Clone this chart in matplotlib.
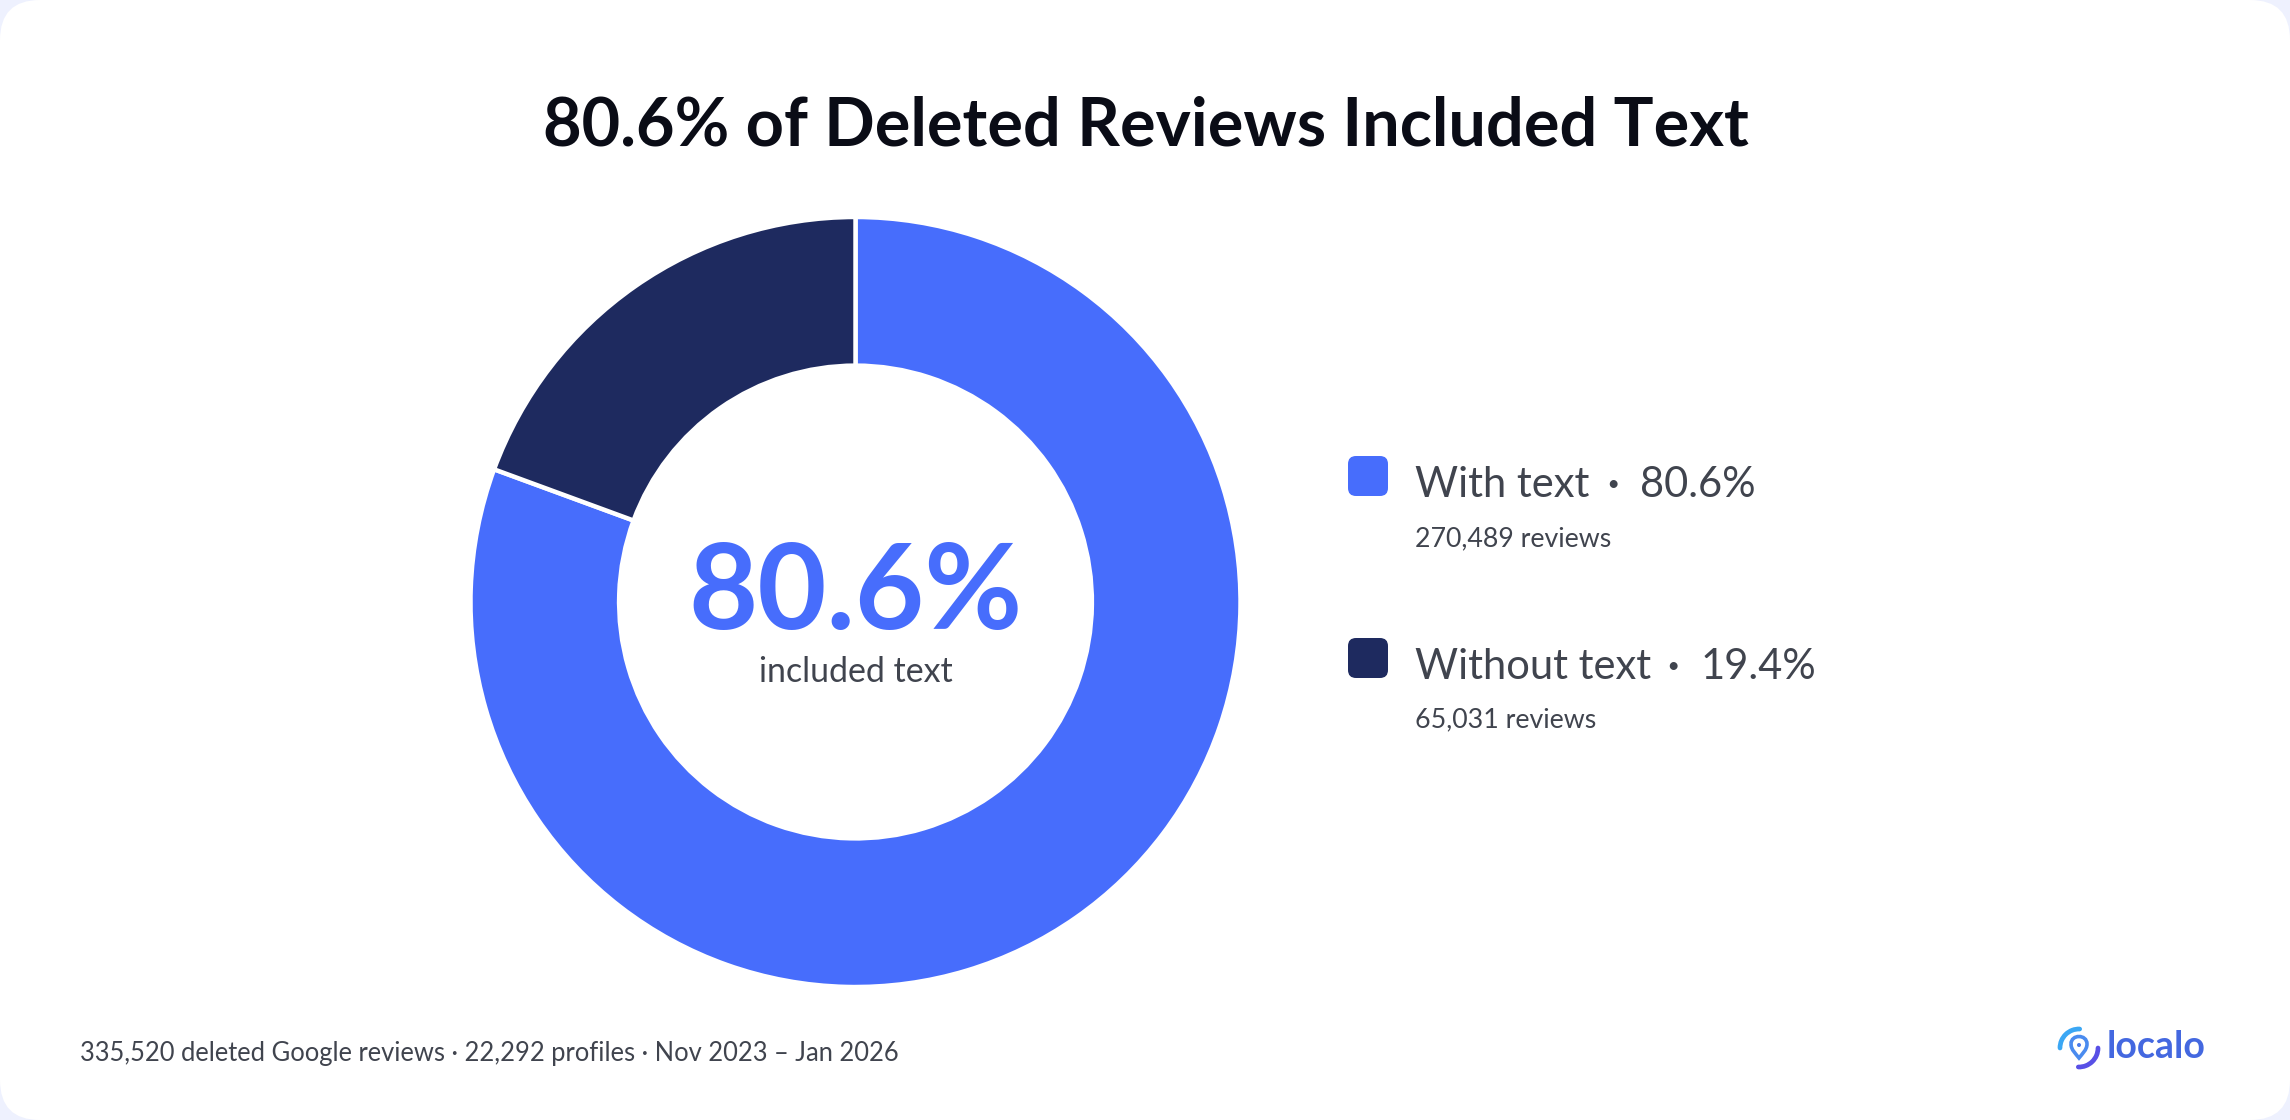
import matplotlib
matplotlib.use("Agg")
import matplotlib.pyplot as plt
from matplotlib.patches import FancyBboxPatch, Arc, Circle, PathPatch
from matplotlib.path import Path

# data
categories = ["With text", "Without text"]
shares = [80.6, 19.4]
share_labels = ["80.6%", "19.4%"]
review_labels = ["270,489 reviews", "65,031 reviews"]
colors = ["#476DFC", "#1E2A5F"]
title = "80.6% of Deleted Reviews Included Text"
center_value = "80.6%"
center_label = "included text"
footer = "335,520 deleted Google reviews · 22,292 profiles · Nov 2023 – Jan 2026"

W, H = 2290, 1120
TEXT = "#40444E"
plt.rcParams["font.family"] = ["Lato", "DejaVu Sans"]

fig = plt.figure(figsize=(W / 100, H / 100), dpi=100, facecolor="#EEF1FE")

# overlay in pixel coords, y going down like the picture
bg = fig.add_axes([0, 0, 1, 1])
bg.set_xlim(0, W)
bg.set_ylim(H, 0)
bg.axis("off")
bg.add_patch(FancyBboxPatch((40, 40), W - 80, H - 80, boxstyle="round,pad=40,rounding_size=40",
                            fc="white", ec="none"))

# donut
cx, cy, r_out = 855.5, 602, 385
ax = fig.add_axes([(cx - r_out) / W, 1 - (cy + r_out) / H, 2 * r_out / W, 2 * r_out / H])
ax.pie(shares, colors=colors, startangle=90, counterclock=False, radius=1,
       wedgeprops=dict(width=0.386, edgecolor="white", linewidth=3.2))
ax.set_xlim(-1, 1)
ax.set_ylim(-1, 1)

bg.text(1146, 146, title, fontsize=48, fontweight="bold", color="#0A0C16", ha="center", va="baseline")
bg.text(cx, 629, center_value, fontsize=86, fontweight="bold", color=colors[0], ha="center", va="baseline")
bg.text(cx, 682, center_label, fontsize=24.4, color=TEXT, ha="center", va="baseline")

# legend
square_y = [456, 638]
label_y = [497, 679]
sub_y = [546, 727]
dot_x = [1613, 1673]
pct_x = [1640, 1701]
for i in range(2):
    bg.add_patch(FancyBboxPatch((1356, square_y[i] + 8), 24, 24, boxstyle="round,pad=8,rounding_size=8",
                                fc=colors[i], ec="none"))
    bg.text(1415, label_y[i], categories[i], fontsize=30, color=TEXT, va="baseline")
    bg.text(dot_x[i], label_y[i], "·", fontsize=30, fontweight="bold", color=TEXT, ha="center", va="baseline")
    bg.text(pct_x[i], label_y[i], share_labels[i], fontsize=30, color=TEXT, va="baseline")
    bg.text(1415, sub_y[i], review_labels[i], fontsize=19.3, color=TEXT, va="baseline")

bg.text(80, 1061, footer, fontsize=18.4, color=TEXT, va="baseline")

# localo logo
lx, ly = 2079, 1048
bg.add_patch(Arc((lx, ly), 38, 38, theta1=180, theta2=272, color="#3BA7F4", lw=3.4, capstyle="round"))
bg.add_patch(Arc((lx, ly), 38, 38, theta1=0, theta2=92, color="#5850E6", lw=3.4, capstyle="round"))
pin = Path([(lx - 8, ly - 4), (lx - 8, ly - 14), (lx + 8, ly - 14), (lx + 8, ly - 4),
            (lx + 8, ly + 2), (lx + 3, ly + 6), (lx, ly + 10),
            (lx - 3, ly + 6), (lx - 8, ly + 2), (lx - 8, ly - 4)],
           [Path.MOVETO, Path.CURVE4, Path.CURVE4, Path.CURVE4, Path.CURVE4, Path.CURVE4, Path.CURVE4,
            Path.CURVE4, Path.CURVE4, Path.CURVE4])
bg.add_patch(PathPatch(pin, fc="none", ec="#4A8BEF", lw=2.6))
bg.add_patch(Circle((lx, ly - 3), 2, fc="#4A7BEA", ec="none"))
bg.text(2107, 1058, "localo", fontsize=27, fontweight="bold", color="#4468E0", va="baseline")

fig.savefig("out.png", dpi=100, facecolor=fig.get_facecolor())
